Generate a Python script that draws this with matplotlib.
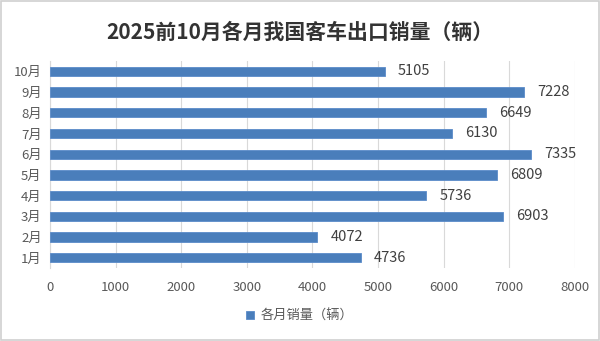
import matplotlib
matplotlib.use("Agg")
import matplotlib.pyplot as plt
from matplotlib.patches import Rectangle

plt.rcParams["font.family"] = ["Noto Sans CJK SC", "DejaVu Sans"]

months = ["1月", "2月", "3月", "4月", "5月", "6月", "7月", "8月", "9月", "10月"]
sales = [4736, 4072, 6903, 5736, 6809, 7335, 6130, 6649, 7228, 5105]
x_ticks = [0, 1000, 2000, 3000, 4000, 5000, 6000, 7000, 8000]

bar_color = "#4A7EBB"
text_color = "#595959"

fig = plt.figure(figsize=(6.0, 3.41), dpi=100)
ax = fig.add_axes([0.0833, 0.214, 0.875, 0.607])

pos = range(len(months))
ax.barh(pos, sales, height=0.45, color=bar_color, edgecolor="#5B8BC9", linewidth=0.6,
        label="各月销量（辆）", zorder=3)
for y, v in zip(pos, sales):
    ax.text(v + 200, y, f"{v}", va="center", ha="left", fontsize=10.5, color="#404040")

ax.set_xlim(0, 8000)
ax.set_ylim(-0.5, len(months) - 0.5)
ax.set_xticks(x_ticks)
ax.set_yticks(list(pos), months)
ax.tick_params(axis="both", length=0, labelsize=9.5, colors=text_color)
ax.tick_params(axis="x", pad=9)
ax.tick_params(axis="y", pad=6)
ax.grid(axis="x", color="#D9D9D9", linewidth=0.8, zorder=0)
for side in ["top", "right", "bottom"]:
    ax.spines[side].set_visible(False)
ax.spines["left"].set_color("#D9D9D9")

fig.suptitle("2025前10月各月我国客车出口销量（辆）", y=0.935, fontsize=15,
             fontweight="bold", color="#333333")
fig.legend(loc="center", bbox_to_anchor=(0.5, 0.073), frameon=False, fontsize=9.5,
           handlelength=0.6, handleheight=0.6, handletextpad=0.5,
           labelcolor=text_color)

# outer frame
fig.patches.append(Rectangle((0.002, 0.003), 0.996, 0.994, transform=fig.transFigure,
                             fill=False, edgecolor="#D0D0D0", linewidth=1.2))

fig.savefig("out.png", dpi=100)
